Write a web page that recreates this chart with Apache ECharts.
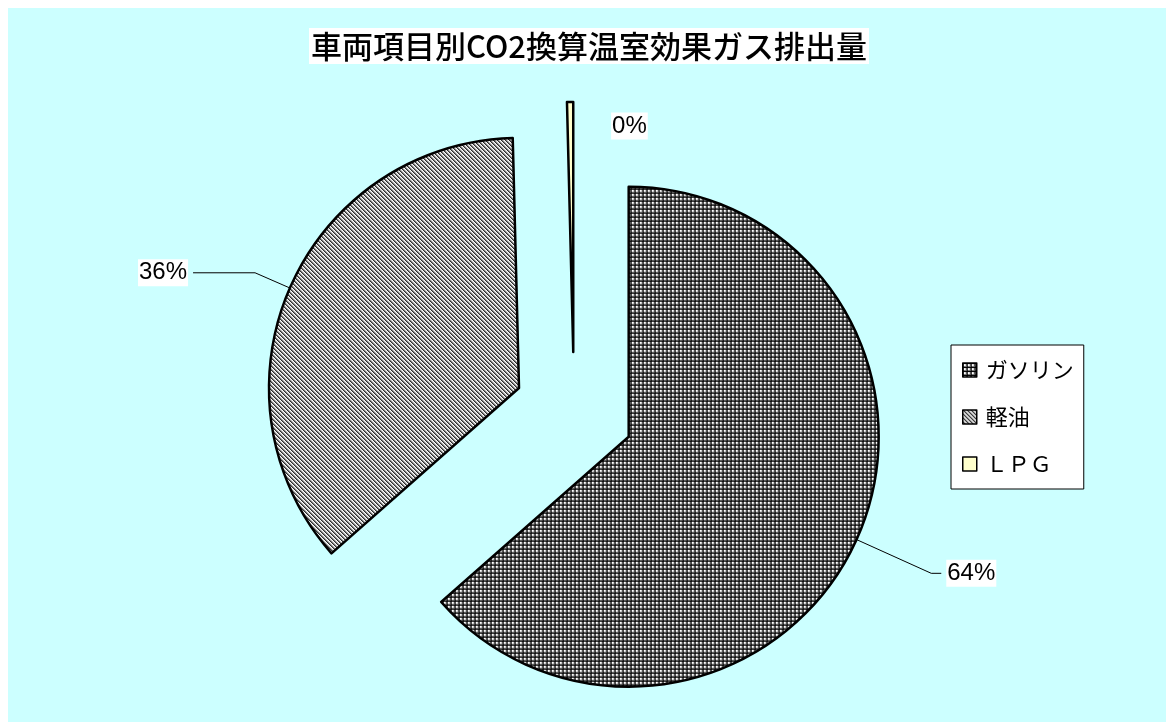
<!DOCTYPE html>
<html>
<head>
<meta charset="utf-8">
<script src="https://cdn.jsdelivr.net/npm/echarts@6/dist/echarts.min.js"></script>
<style>
  html, body { margin: 0; padding: 0; background: #ffffff; }
  #chart { width: 1166px; height: 722px; }
</style>
</head>
<body>
<div id="chart"></div>
<script>
// 燃料別の排出量構成比（%）
const titleText = '車両項目別CO2換算温室効果ガス排出量';
const categories = ['ガソリン', '軽油', 'ＬＰＧ'];
const shares = [63.5, 36.1, 0.4];

// 塗りつぶし用の細かい模様
function makeTile(size, painter) {
  const c = document.createElement('canvas');
  c.width = size; c.height = size;
  const ctx = c.getContext('2d');
  painter(ctx);
  return c;
}
// 格子模様（ガソリン）
const gridTile = makeTile(4, ctx => {
  ctx.fillStyle = '#ffffff'; ctx.fillRect(0, 0, 4, 4);
  ctx.fillStyle = '#7a7a7a';
  ctx.fillRect(0, 3, 4, 1);
  ctx.fillRect(3, 0, 1, 4);
  ctx.fillStyle = '#000000';
  ctx.fillRect(0, 0, 4, 1);
  ctx.fillRect(0, 0, 1, 4);
});
// 斜め模様（軽油）
const diagTile = makeTile(4, ctx => {
  ctx.fillStyle = '#ffffff'; ctx.fillRect(0, 0, 4, 4);
  for (let y = 0; y < 4; y++) {
    for (let x = 0; x < 4; x++) {
      const k = (x - y + 8) % 4;
      if (k === 0) { ctx.fillStyle = '#202020'; ctx.fillRect(x, y, 1, 1); }
      else if (k === 1) { ctx.fillStyle = '#808080'; ctx.fillRect(x, y, 1, 1); }
      else if (k === 2) { ctx.fillStyle = '#d0d0d0'; ctx.fillRect(x, y, 1, 1); }
    }
  }
});
const fills = [
  { image: gridTile, repeat: 'repeat' },
  { image: diagTile, repeat: 'repeat' },
  '#FFFFCC'
];

const chart = echarts.init(document.getElementById('chart'), null, { renderer: 'canvas' });

const seriesData = categories.map((name, i) => {
  const item = {
    name: name,
    value: shares[i],
    selected: true,
    itemStyle: { color: fills[i] }
  };
  if (i === 0) item.labelLine = { length: 82, length2: 10 };
  if (i === 1) item.labelLine = { length: 38, length2: 62 };
  if (i === 2) item.labelLine = { show: false, length: 0, length2: 0 };
  return item;
});

chart.setOption({
  animation: false,
  backgroundColor: '#ffffff',
  graphic: [{
    type: 'rect',
    left: 8, top: 8,
    shape: { width: 1158, height: 714 },
    style: { fill: '#CCFFFF' },
    z: -10,
    silent: true
  }],
  title: {
    text: titleText,
    left: 587,
    textAlign: 'center',
    top: 28,
    padding: [3, 2, 2, 2],
    backgroundColor: '#ffffff',
    textStyle: {
      fontFamily: '"Noto Sans CJK JP", sans-serif',
      fontWeight: 500,
      fontSize: 31,
      color: '#000'
    }
  },
  legend: {
    orient: 'vertical',
    left: 951,
    top: 345,
    backgroundColor: '#ffffff',
    borderColor: '#000000',
    borderWidth: 1,
    padding: [14, 10, 14, 11],
    itemGap: 25,
    itemWidth: 14,
    itemHeight: 14,
    icon: 'rect',
    itemStyle: { borderColor: '#000000', borderWidth: 1.5 },
    textStyle: {
      fontFamily: '"Noto Sans CJK JP", sans-serif',
      fontSize: 22,
      color: '#000',
      padding: [0, 0, 0, 4]
    },
    selectedMode: false,
    data: categories
  },
  series: [{
    type: 'pie',
    center: [574, 412],
    radius: 250,
    startAngle: 90,
    clockwise: true,
    selectedMode: 'multiple',
    selectedOffset: 60,
    percentPrecision: 0,
    emphasis: { disabled: true },
    itemStyle: { borderColor: '#000000', borderWidth: 2.5 },
    label: {
      show: true,
      position: 'outside',
      formatter: '{d}%',
      fontFamily: '"Liberation Sans", Arial, sans-serif',
      fontSize: 24,
      color: '#000',
      backgroundColor: '#ffffff',
      padding: [2, 1, 1, 1]
    },
    labelLine: {
      show: true,
      smooth: false,
      lineStyle: { color: '#000000', width: 1 }
    },
    labelLayout: function (params) {
      if (params.dataIndex === 2) {
        return { align: 'left', dx: 46, dy: 24 };
      }
      return {};
    },
    data: seriesData
  }]
});
</script>
</body>
</html>
